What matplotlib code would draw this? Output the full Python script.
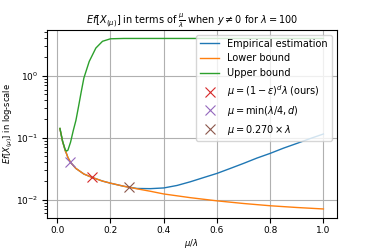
import numpy as np
import matplotlib
matplotlib.use("Agg")
import matplotlib.pyplot as plt

# mu / lambda grid
x_low = [0.01, 0.02, 0.03, 0.035, 0.04, 0.05, 0.07, 0.1, 0.13, 0.17, 0.2, 0.25,
         0.3, 0.35, 0.4, 0.5, 0.6, 0.7, 0.8, 0.9, 1.0]
lower = [0.14, 0.087, 0.062, 0.055, 0.048, 0.040, 0.032, 0.026, 0.023, 0.020,
         0.0185, 0.0165, 0.0150, 0.0137, 0.0124, 0.0108, 0.0096, 0.0087,
         0.0080, 0.0075, 0.0071]

x_emp = [0.01, 0.02, 0.03, 0.035, 0.04, 0.05, 0.07, 0.1, 0.13, 0.17, 0.2, 0.25,
         0.3, 0.35, 0.4, 0.45, 0.5, 0.55, 0.6, 0.65, 0.7, 0.75, 0.8, 0.85,
         0.9, 0.95, 1.0]
empirical = [0.14, 0.087, 0.062, 0.055, 0.048, 0.040, 0.032, 0.026, 0.023,
             0.020, 0.0185, 0.0165, 0.0152, 0.0151, 0.0155, 0.0170, 0.0195,
             0.0228, 0.0266, 0.032, 0.0386, 0.047, 0.056, 0.068, 0.081,
             0.097, 0.115]

x_up = [0.01, 0.02, 0.03, 0.035, 0.04, 0.05, 0.06, 0.07, 0.08, 0.09, 0.1,
        0.12, 0.145, 0.17, 0.2, 0.25, 0.4, 0.6, 0.8, 1.0]
upper = [0.142, 0.088, 0.064, 0.061, 0.063, 0.085, 0.13, 0.19, 0.32, 0.55,
         0.92, 1.7, 2.8, 3.6, 3.95, 4.0, 4.0, 4.0, 4.0, 4.0]

# chosen mu values
pt_ours = (0.130, 0.023)
pt_min = (0.048, 0.040)
pt_fixed = (0.270, 0.0158)

plt.rcParams["font.size"] = 7

fig, ax = plt.subplots(figsize=(3.74, 2.49), dpi=100)
fig.subplots_adjust(left=0.125, right=0.9, top=0.88, bottom=0.125)

ax.plot(x_emp, empirical, color="C0", lw=1.0, label="Empirical estimation")
ax.plot(x_low, lower, color="C1", lw=1.0, label="Lower bound")
ax.plot(x_up, upper, color="C2", lw=1.0, label="Upper bound")
ax.plot(*pt_ours, "x", color="C3", ms=7, mew=0.8,
        label=r"$\mu = (1-\varepsilon)^d\lambda$ (ours)")
ax.plot(*pt_min, "x", color="C4", ms=7, mew=0.8,
        label=r"$\mu = \min(\lambda/4, d)$")
ax.plot(*pt_fixed, "x", color="C5", ms=7, mew=0.8,
        label=r"$\mu = 0.270 \times \lambda$")

ax.set_yscale("log")
ax.set_ylim(0.0051, 5.5)
ax.grid(True)
ax.tick_params(labelsize=6.5, pad=2.5)
ax.set_xlabel(r"$\mu/\lambda$", fontsize=6, labelpad=1)
ax.set_ylabel(r"$Ef[X_{(\mu)}]$ in log-scale", fontsize=6, labelpad=1)
ax.set_title(r"$Ef[X_{(\mu)}]$ in terms of $\frac{\mu}{\lambda}$ when $y \neq 0$ for $\lambda = 100$",
             fontsize=7, pad=4)
ax.legend(loc="upper right")

fig.savefig("out.png", dpi=100)
